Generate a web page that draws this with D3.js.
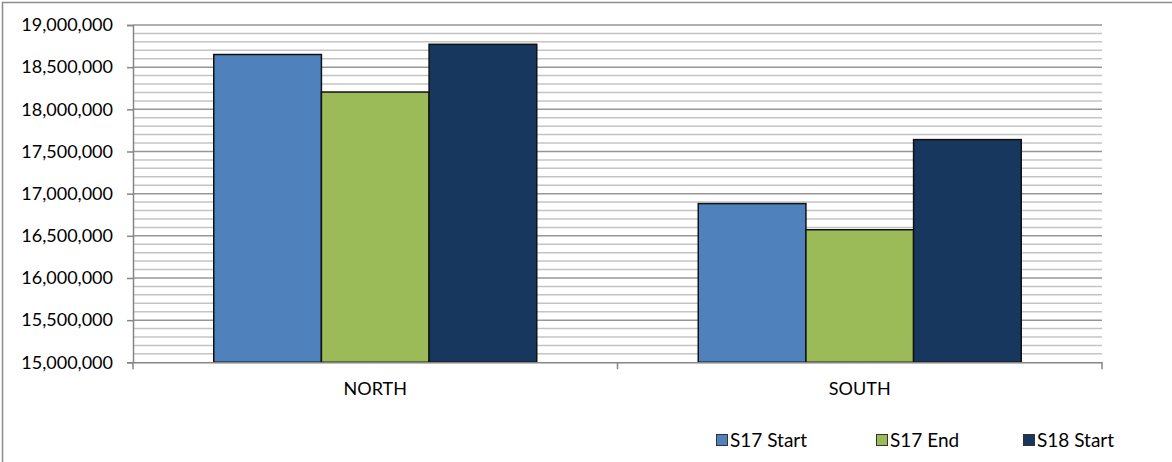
<!DOCTYPE html>
<html>
<head>
<meta charset="utf-8">
<script src="https://cdn.jsdelivr.net/npm/d3@7"></script>
<style>
  html, body { margin: 0; padding: 0; background: #ffffff; }
  svg { display: block; }
  text { font-family: Lato, "Open Sans", sans-serif; fill: #000; }
</style>
</head>
<body>
<svg id="chart" width="1172" height="462"></svg>
<script>
// ---- data ----
const categories = ["NORTH", "SOUTH"];
const seriesNames = ["S17 Start", "S17 End", "S18 Start"];
const s17Start = [18650000, 16882000];
const s17End   = [18205000, 16572000];
const s18Start = [18771000, 17641000];
const seriesColors = ["#4F81BD", "#9BBB59", "#17375E"];
const yTickValues = [15000000, 15500000, 16000000, 16500000, 17000000, 17500000, 18000000, 18500000, 19000000];

const seriesValues = [s17Start, s17End, s18Start];

// ---- layout ----
const W = 1172, H = 462;
const plot = { left: 133, top: 25, right: 1102, bottom: 362.3 };

const svg = d3.select("#chart");

// outer frame
svg.append("rect")
  .attr("x", 2.5).attr("y", 2.5)
  .attr("width", W + 10).attr("height", H + 10)
  .attr("fill", "none").attr("stroke", "#8c8c8c").attr("stroke-width", 1.5);

const y = d3.scaleLinear().domain([15000000, 19000000]).range([plot.bottom, plot.top]);

const x0 = d3.scaleBand().domain(categories).range([plot.left, plot.right]).paddingInner(0).paddingOuter(0);
const x1 = d3.scaleBand().domain(seriesNames).range([0, x0.bandwidth()]).paddingInner(0).paddingOuter(0.75);

// gridlines: minor every 100,000, major every 500,000
const minorVals = d3.range(15100000, 19000001, 100000).filter(v => v % 500000 !== 0);
svg.append("g").selectAll("line").data(minorVals).join("line")
  .attr("x1", plot.left).attr("x2", plot.right)
  .attr("y1", d => y(d)).attr("y2", d => y(d))
  .attr("stroke", "#c4c4c4").attr("stroke-width", 1.5);
svg.append("g").selectAll("line").data(yTickValues.filter(v => v > 15000000)).join("line")
  .attr("x1", plot.left).attr("x2", plot.right)
  .attr("y1", d => y(d)).attr("y2", d => y(d))
  .attr("stroke", "#969696").attr("stroke-width", 1.5);

// bars
const rows = categories.map((c, i) => ({ cat: c, vals: seriesNames.map((s, j) => ({ s, j, v: seriesValues[j][i] })) }));
const groups = svg.append("g").selectAll("g").data(rows).join("g")
  .attr("transform", d => `translate(${x0(d.cat)},0)`);
groups.selectAll("rect").data(d => d.vals).join("rect")
  .attr("x", d => x1(d.s))
  .attr("width", x1.bandwidth())
  .attr("y", d => y(d.v))
  .attr("height", d => y(15000000) - y(d.v))
  .attr("fill", d => seriesColors[d.j])
  .attr("stroke", "#111").attr("stroke-width", 1.5);

// y axis
const yAxis = d3.axisLeft(y).tickValues(yTickValues).tickSize(6).tickPadding(14)
  .tickFormat(d3.format(",d"));
const gy = svg.append("g").attr("transform", `translate(${plot.left},0)`).call(yAxis);
gy.select(".domain").attr("stroke", "#868686").attr("stroke-width", 1.5);
gy.selectAll(".tick line").attr("stroke", "#868686").attr("stroke-width", 1.5);
gy.selectAll(".tick text").style("font-size", "18px").style("font-family", "Lato, sans-serif").attr("fill", "#000");

// x axis
const xAxis = d3.axisBottom(x0).tickSize(0).tickPadding(20);
const gx = svg.append("g").attr("transform", `translate(0,${plot.bottom})`).call(xAxis);
gx.select(".domain").attr("stroke", "#868686").attr("stroke-width", 1.5);
gx.selectAll(".tick text").style("font-size", "18px").style("font-family", "Lato, sans-serif").attr("fill", "#000");
// category boundary ticks
const bounds = categories.map(c => x0(c)).concat([x0(categories[categories.length - 1]) + x0.bandwidth()]);
gx.append("g").selectAll("line").data(bounds).join("line")
  .attr("x1", d => d).attr("x2", d => d).attr("y1", 0).attr("y2", 7)
  .attr("stroke", "#868686").attr("stroke-width", 1.5);

// legend
const legendX = [716, 876, 1023];
const leg = svg.append("g").selectAll("g").data(seriesNames).join("g")
  .attr("transform", (d, i) => `translate(${legendX[i]},434)`);
leg.append("rect").attr("x", 0.5).attr("y", 0.5).attr("width", 11).attr("height", 11)
  .attr("fill", (d, i) => seriesColors[i]).attr("stroke", "#333").attr("stroke-width", 1);
leg.append("text").attr("x", 14).attr("y", 12.5)
  .style("font-size", "19px").text(d => d);
</script>
</body>
</html>
